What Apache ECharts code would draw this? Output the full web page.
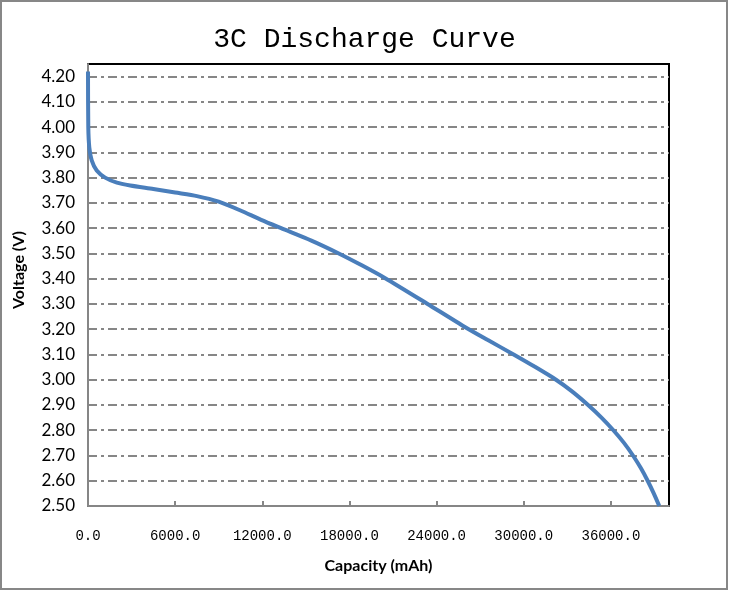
<!DOCTYPE html>
<html>
<head>
<meta charset="utf-8">
<script src="https://cdn.jsdelivr.net/npm/echarts@6/dist/echarts.min.js"></script>
<style>
  html, body { margin: 0; padding: 0; background: #fff; }
  #main { width: 729px; height: 592px; }
</style>
</head>
<body>
<div id="main"></div>
<script>
// capacity in mAh, voltage in V
var capacity = [0, 20, 90, 255, 600, 1180, 1990, 2910, 4500, 6000, 7500, 9000, 10500, 11920, 13300, 15380, 17230, 18850, 20460, 23350, 25770, 27500, 29300, 30800, 32220, 33300, 34430, 35350, 36170, 36900, 37520, 38060, 38530, 38950, 39330];
var voltage  = [4.22, 4.00, 3.92, 3.868, 3.828, 3.80, 3.78, 3.769, 3.755, 3.741, 3.727, 3.705, 3.670, 3.633, 3.60, 3.551, 3.501, 3.453, 3.402, 3.301, 3.215, 3.158, 3.10, 3.05, 3.00, 2.955, 2.90, 2.85, 2.80, 2.75, 2.70, 2.65, 2.60, 2.55, 2.50];

var points = capacity.map(function (c, i) { return [c, voltage[i]]; });

var myChart = echarts.init(document.getElementById('main'));
var option = {
    backgroundColor: '#ffffff',
    animation: false,
    title: {
        text: '3C Discharge Curve',
        left: 'center',
        top: 21,
        textStyle: {
            fontFamily: 'Liberation Mono',
            fontSize: 28,
            fontWeight: 'normal',
            color: '#000'
        }
    },
    graphic: [{
        type: 'rect',
        shape: { x: 1, y: 1, width: 726, height: 588 },
        style: { fill: 'none', stroke: '#878787', lineWidth: 2 },
        silent: true
    }, {
        type: 'text',
        x: 19,
        y: 270,
        rotation: Math.PI / 2,
        style: {
            text: 'Voltage (V)',
            font: 'bold 16px Lato',
            fill: '#000',
            textAlign: 'center',
            textVerticalAlign: 'middle'
        }
    }],
    grid: {
        left: 88,
        top: 64,
        right: 60,
        bottom: 86,
        show: true,
        borderColor: '#000',
        borderWidth: 2
    },
    xAxis: {
        type: 'value',
        min: 0,
        max: 40000,
        interval: 6000,
        name: 'Capacity (mAh)',
        nameLocation: 'middle',
        nameGap: 52,
        nameTextStyle: { fontFamily: 'Lato', fontWeight: 'bold', fontSize: 16, color: '#000' },
        axisLine: { lineStyle: { color: '#868686', width: 2 } },
        axisTick: { inside: true, length: 5, lineStyle: { color: '#868686', width: 2 } },
        splitLine: { show: false },
        axisLabel: {
            showMaxLabel: false,
            margin: 23,
            fontFamily: 'Liberation Mono',
            fontSize: 14,
            color: '#000',
            formatter: function (v) { return v.toFixed(1); }
        }
    },
    yAxis: {
        type: 'value',
        min: 2.5,
        max: 4.25,
        interval: 0.1,
        axisLine: { show: true, lineStyle: { color: '#868686', width: 2 } },
        axisTick: { show: false },
        splitLine: {
            showMaxLine: false,
            lineStyle: { color: '#868686', width: 2, type: [9, 4, 3, 4] }
        },
        axisLabel: {
            showMaxLabel: false,
            margin: 13,
            fontFamily: 'Lato',
            fontSize: 17,
            color: '#000',
            formatter: function (v) { return v.toFixed(2); }
        }
    },
    series: [{
        type: 'line',
        data: points,
        smooth: 0.25,
        showSymbol: false,
        lineStyle: { color: '#4a7ebb', width: 4 }
    }]
};
myChart.setOption(option);
</script>
</body>
</html>
